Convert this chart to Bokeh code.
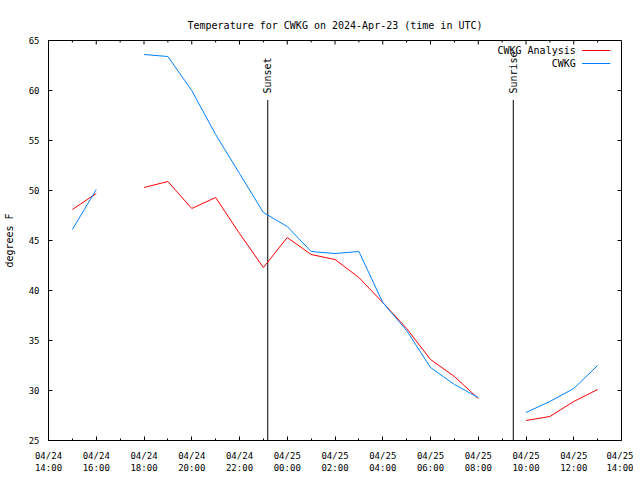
import numpy as np
import pandas as pd
from bokeh.plotting import figure
from bokeh.models import Range1d, FixedTicker, DatetimeTickFormatter
from bokeh.core.properties import value
from bokeh.embed import file_html
from bokeh.resources import INLINE

# ---- data ----
times = ["2024-04-24 15:00", "2024-04-24 16:00", "2024-04-24 17:00", "2024-04-24 18:00",
         "2024-04-24 19:00", "2024-04-24 20:00", "2024-04-24 21:00", "2024-04-24 22:00",
         "2024-04-24 23:00", "2024-04-25 00:00", "2024-04-25 01:00", "2024-04-25 02:00",
         "2024-04-25 03:00", "2024-04-25 04:00", "2024-04-25 05:00", "2024-04-25 06:00",
         "2024-04-25 07:00", "2024-04-25 08:00", "2024-04-25 09:00", "2024-04-25 10:00",
         "2024-04-25 11:00", "2024-04-25 12:00", "2024-04-25 13:00"]
cwkg = [46.1, 50.1, np.nan, 63.6, 63.4, 60.0, 55.6, 51.7, 47.8, 46.4, 43.9, 43.7,
        43.9, 38.8, 36.0, 32.3, 30.6, 29.3, np.nan, 27.8, 28.9, 30.2, 32.5]
analysis = [48.1, 49.7, np.nan, 50.3, 50.9, 48.2, 49.3, 45.7, 42.3, 45.3, 43.6, 43.1,
            41.3, 38.8, 36.2, 33.1, 31.4, 29.2, np.nan, 27.0, 27.4, 28.9, 30.1]

series_names = ["CWKG Analysis", "CWKG"]
series_colors = ["#ff0000", "#0080ff"]

sun_events = ["Sunset", "Sunrise"]
sun_times = ["2024-04-24 23:11", "2024-04-25 09:28"]
sun_line_top = 59.05
sun_text_y = 59.7

x_start, x_end = "2024-04-24 14:00", "2024-04-25 14:00"
y_start, y_end = 25, 65
major_tick_times = pd.date_range(x_start, x_end, freq="2h")
minor_tick_times = pd.date_range("2024-04-24 15:00", "2024-04-25 13:00", freq="2h")
y_ticks = [25, 30, 35, 40, 45, 50, 55, 60, 65]

# legend placement (data coords)
legend_text_x = "2024-04-25 12:05"
legend_line_x0, legend_line_x1 = "2024-04-25 12:21", "2024-04-25 13:32"
legend_ys = [64.0, 62.7]

FRAME_W, FRAME_H = 573, 400
MAJOR_TICK, MINOR_TICK = 4, 2

def ms(ts):
    return pd.Timestamp(ts).value / 1e6

t = pd.to_datetime(times)

FONT = "DejaVu Sans Mono"

p = figure(frame_width=FRAME_W, frame_height=FRAME_H,
           min_border_left=47, min_border_right=12, min_border_top=40, min_border_bottom=32,
           x_axis_type="datetime", output_backend="svg", toolbar_location=None,
           x_range=Range1d(pd.Timestamp(x_start), pd.Timestamp(x_end)),
           y_range=Range1d(y_start, y_end),
           title="Temperature for CWKG on 2024-Apr-23 (time in UTC)")

p.background_fill_color = "white"
p.border_fill_color = "white"
p.outline_line_color = "black"
p.outline_line_width = 1
p.xgrid.visible = False
p.ygrid.visible = False

p.title.text_font = FONT
p.title.text_font_size = "10px"
p.title.text_font_style = "normal"
p.title.text_color = "black"
p.title.align = "center"
p.title.standoff = 19

xticker = FixedTicker(ticks=[ms(x) for x in major_tick_times],
                      minor_ticks=[ms(x) for x in minor_tick_times])
fmt_str = "%m/%d\n%H:%M"
xfmt = DatetimeTickFormatter(microseconds=fmt_str, milliseconds=fmt_str, seconds=fmt_str,
                             minsec=fmt_str, minutes=fmt_str, hourmin=fmt_str, hours=fmt_str,
                             days=fmt_str, months=fmt_str, years=fmt_str)
yticker = FixedTicker(ticks=y_ticks, minor_ticks=[])

def style_axis(ax, standoff):
    ax.axis_line_color = "black"
    ax.major_tick_in = MAJOR_TICK
    ax.major_tick_out = 0
    ax.minor_tick_in = MINOR_TICK
    ax.minor_tick_out = 0
    ax.major_tick_line_color = "black"
    ax.minor_tick_line_color = "black"
    ax.major_label_text_font = FONT
    ax.major_label_text_color = "black"
    ax.major_label_text_font_size = "9px"
    ax.major_label_standoff = standoff

xa = p.xaxis[0]
xa.ticker = xticker
xa.formatter = xfmt
style_axis(xa, 10)

ya = p.yaxis[0]
ya.ticker = yticker
style_axis(ya, 9)
ya.axis_label = "degrees F"
ya.axis_label_text_font = FONT
ya.axis_label_text_font_size = "10px"
ya.axis_label_text_font_style = "normal"
ya.axis_label_text_color = "black"
ya.axis_label_standoff = 11

# mirrored ticks on the top and right borders (gnuplot style)
x_per_px = (ms(x_end) - ms(x_start)) / FRAME_W
y_per_px = (y_end - y_start) / FRAME_H
top_x = [pd.Timestamp(x) for x in major_tick_times] + [pd.Timestamp(x) for x in minor_tick_times]
top_len = [MAJOR_TICK] * len(major_tick_times) + [MINOR_TICK] * len(minor_tick_times)
p.segment(x0=top_x, y0=[y_end] * len(top_x), x1=top_x,
          y1=[y_end - L * y_per_px for L in top_len], line_color="black", line_width=1)
xe = ms(x_end)
p.segment(x0=[xe] * len(y_ticks), y0=y_ticks, x1=[xe - MAJOR_TICK * x_per_px] * len(y_ticks),
          y1=y_ticks, line_color="black", line_width=1)

# sunset / sunrise markers
sun_t = pd.to_datetime(sun_times)
p.segment(x0=sun_t, y0=[y_start] * len(sun_t), x1=sun_t, y1=[sun_line_top] * len(sun_t),
          line_color="black", line_width=1)
p.text(x=sun_t, y=[sun_text_y] * len(sun_t), text=sun_events, angle=np.pi / 2,
       text_align="left", text_baseline="middle", text_font=value(FONT),
       text_font_size="10px", text_color="black")

# series
p.line(t, analysis, line_color=series_colors[0], line_width=1)
p.line(t, cwkg, line_color=series_colors[1], line_width=1)

# legend (gnuplot style: label left, sample right)
p.text(x=[pd.Timestamp(legend_text_x)] * 2, y=legend_ys, text=series_names,
       text_align="right", text_baseline="middle", text_font=value(FONT),
       text_font_size="10px", text_color="black")
p.segment(x0=[pd.Timestamp(legend_line_x0)] * 2, y0=legend_ys,
          x1=[pd.Timestamp(legend_line_x1)] * 2, y1=legend_ys,
          line_color=series_colors, line_width=1)

open("out.html", "w").write(file_html(p, INLINE))
